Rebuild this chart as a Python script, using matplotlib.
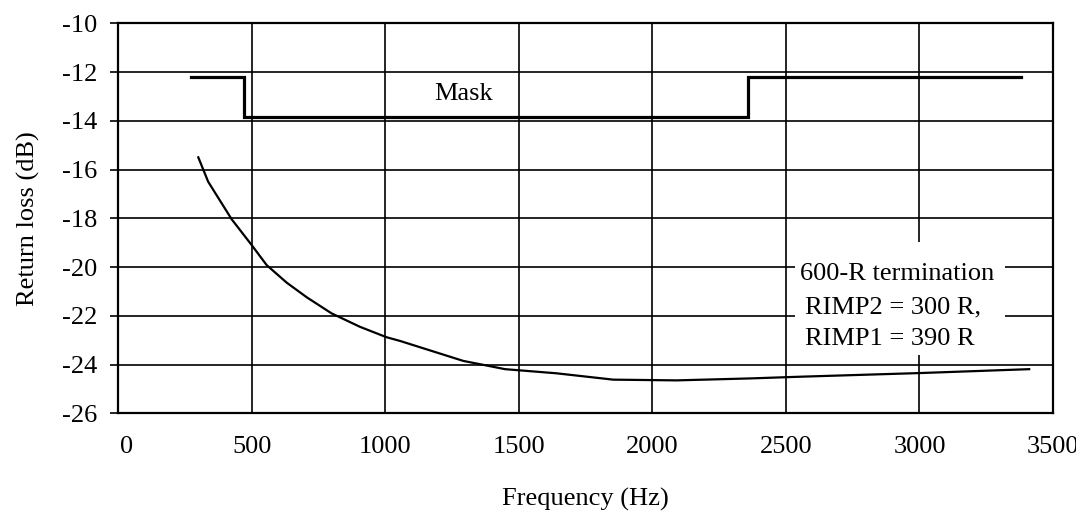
import matplotlib.pyplot as plt
import matplotlib.transforms as mtransforms
from matplotlib.patches import Rectangle

plt.rcParams['font.family'] = ['Liberation Serif', 'DejaVu Serif']
plt.rcParams['axes.unicode_minus'] = False

# Mask (step limit line)
mask_f = [270, 469, 469, 2359, 2359, 3380]
mask_db = [-12.2, -12.2, -13.86, -13.86, -12.2, -12.2]

# Measured return loss, 600-R termination
freq = [299, 336, 424, 499, 555, 630, 705, 798, 904, 1004, 1054, 1242, 1291,
        1448, 1641, 1853, 2090, 2365, 2552, 3000, 3411]
rl = [-15.5, -16.5, -18.04, -19.1, -19.92, -20.64, -21.24, -21.9, -22.45, -22.88,
      -23.03, -23.68, -23.85, -24.19, -24.36, -24.62, -24.65, -24.57, -24.5,
      -24.35, -24.19]

xticks = [0, 500, 1000, 1500, 2000, 2500, 3000, 3500]
yticks = [-26, -24, -22, -20, -18, -16, -14, -12, -10]

fs = 19

fig = plt.figure(figsize=(10.76, 5.12), dpi=100)
ax = fig.add_axes([0.1101, 0.1928, 0.8685, 0.7617])

ax.plot(mask_f, mask_db, color='black', lw=2.3, zorder=3, solid_joinstyle='miter')
ax.plot(freq, rl, color='black', lw=1.6, zorder=3)

ax.set_xlim(0, 3500)
ax.set_ylim(-26, -10)
ax.set_xticks(xticks)
ax.set_yticks(yticks)
ax.set_axisbelow(True)
ax.grid(True, color='black', lw=1.2)

for s in ax.spines.values():
    s.set_linewidth(1.6)

ax.tick_params(axis='y', direction='out', length=6, width=1.2, pad=9, labelsize=fs)
ax.tick_params(axis='x', length=0, pad=16, labelsize=fs)

# the "0" label sits a little right of its gridline
lbl0 = ax.get_xticklabels()[0]
lbl0.set_transform(lbl0.get_transform() +
                   mtransforms.ScaledTranslation(8 / 100, 0, fig.dpi_scale_trans))

ax.set_xlabel('Frequency (Hz)', fontsize=fs, labelpad=22)
ax.set_ylabel('Return loss (dB)', fontsize=fs, labelpad=16)

ax.text(1294, -13.15, 'Mask', fontsize=fs, ha='center', va='baseline')

ax.add_patch(Rectangle((2534, -23.6), 786, 4.63, facecolor='white',
                       edgecolor='none', zorder=1))
ax.text(2552, -20.53, '600-R termination', fontsize=fs, ha='left', va='baseline', zorder=2)
ax.text(2571, -21.89, 'RIMP2 = 300 R,', fontsize=fs, ha='left', va='baseline', zorder=2)
ax.text(2571, -23.19, 'RIMP1 = 390 R', fontsize=fs, ha='left', va='baseline', zorder=2)

fig.savefig('out.png', dpi=100)
